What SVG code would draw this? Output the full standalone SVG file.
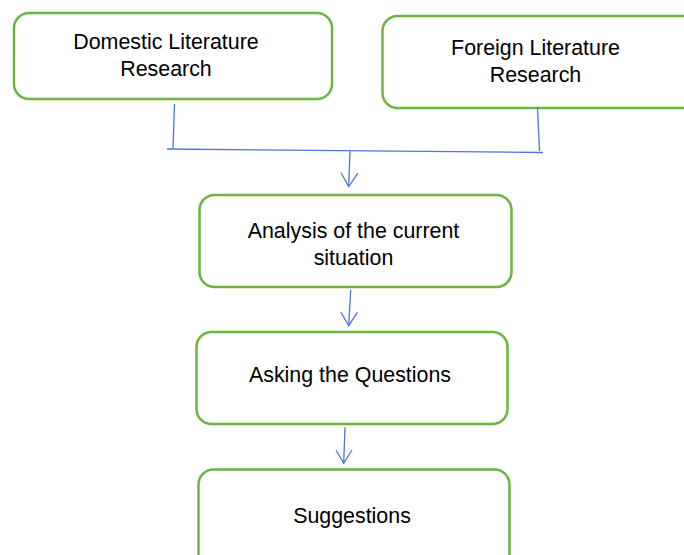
<svg xmlns="http://www.w3.org/2000/svg" width="684" height="555" viewBox="0 0 684 555">
<style>
.box{fill:#ffffff;stroke:#6db33f;stroke-width:2.5}
.lbl{font-family:"Liberation Sans",Arial,sans-serif;font-size:21.4px;fill:#000000;text-anchor:middle}
.con{fill:none;stroke:#4a78d6;stroke-width:1.3}
</style>
<rect width="684" height="555" fill="#ffffff"/>
<g id="n1">
<rect class="box" x="14" y="13" width="318" height="86" rx="15"/>
<text class="lbl" x="166" y="49">Domestic Literature</text>
<text class="lbl" x="166" y="76">Research</text>
</g>
<g id="n2">
<rect class="box" x="382.5" y="16" width="316" height="92" rx="15"/>
<text class="lbl" x="535.5" y="55">Foreign Literature</text>
<text class="lbl" x="535.5" y="81.5">Research</text>
</g>
<g id="n3">
<rect class="box" x="199.5" y="195" width="312" height="92" rx="15"/>
<text class="lbl" x="353.5" y="238">Analysis of the current</text>
<text class="lbl" x="353.5" y="265">situation</text>
</g>
<g id="n4">
<rect class="box" x="196.5" y="332" width="311" height="92" rx="15"/>
<text class="lbl" x="350" y="382">Asking the Questions</text>
</g>
<g id="n5">
<rect class="box" x="198.5" y="469.5" width="311" height="100" rx="15"/>
<text class="lbl" x="352" y="523">Suggestions</text>
</g>
<g id="connectors">
<path class="con" d="M174.5,104 L173,148.5"/>
<path class="con" d="M537.5,107 L539.5,151"/>
<path class="con" d="M167,149 L543,152.5"/>
<path class="con" d="M350,151 L348.7,186.5"/>
<path class="con" d="M341,172.7 L348.7,186.5 L357.7,173.3"/>
<path class="con" d="M350.7,290 L348.7,325.7"/>
<path class="con" d="M341,312.3 L348.7,325.7 L357.3,312.3"/>
<path class="con" d="M345,427.3 L343.7,463.3"/>
<path class="con" d="M336,450 L343.7,463.3 L352,450"/>
</g>
</svg>
